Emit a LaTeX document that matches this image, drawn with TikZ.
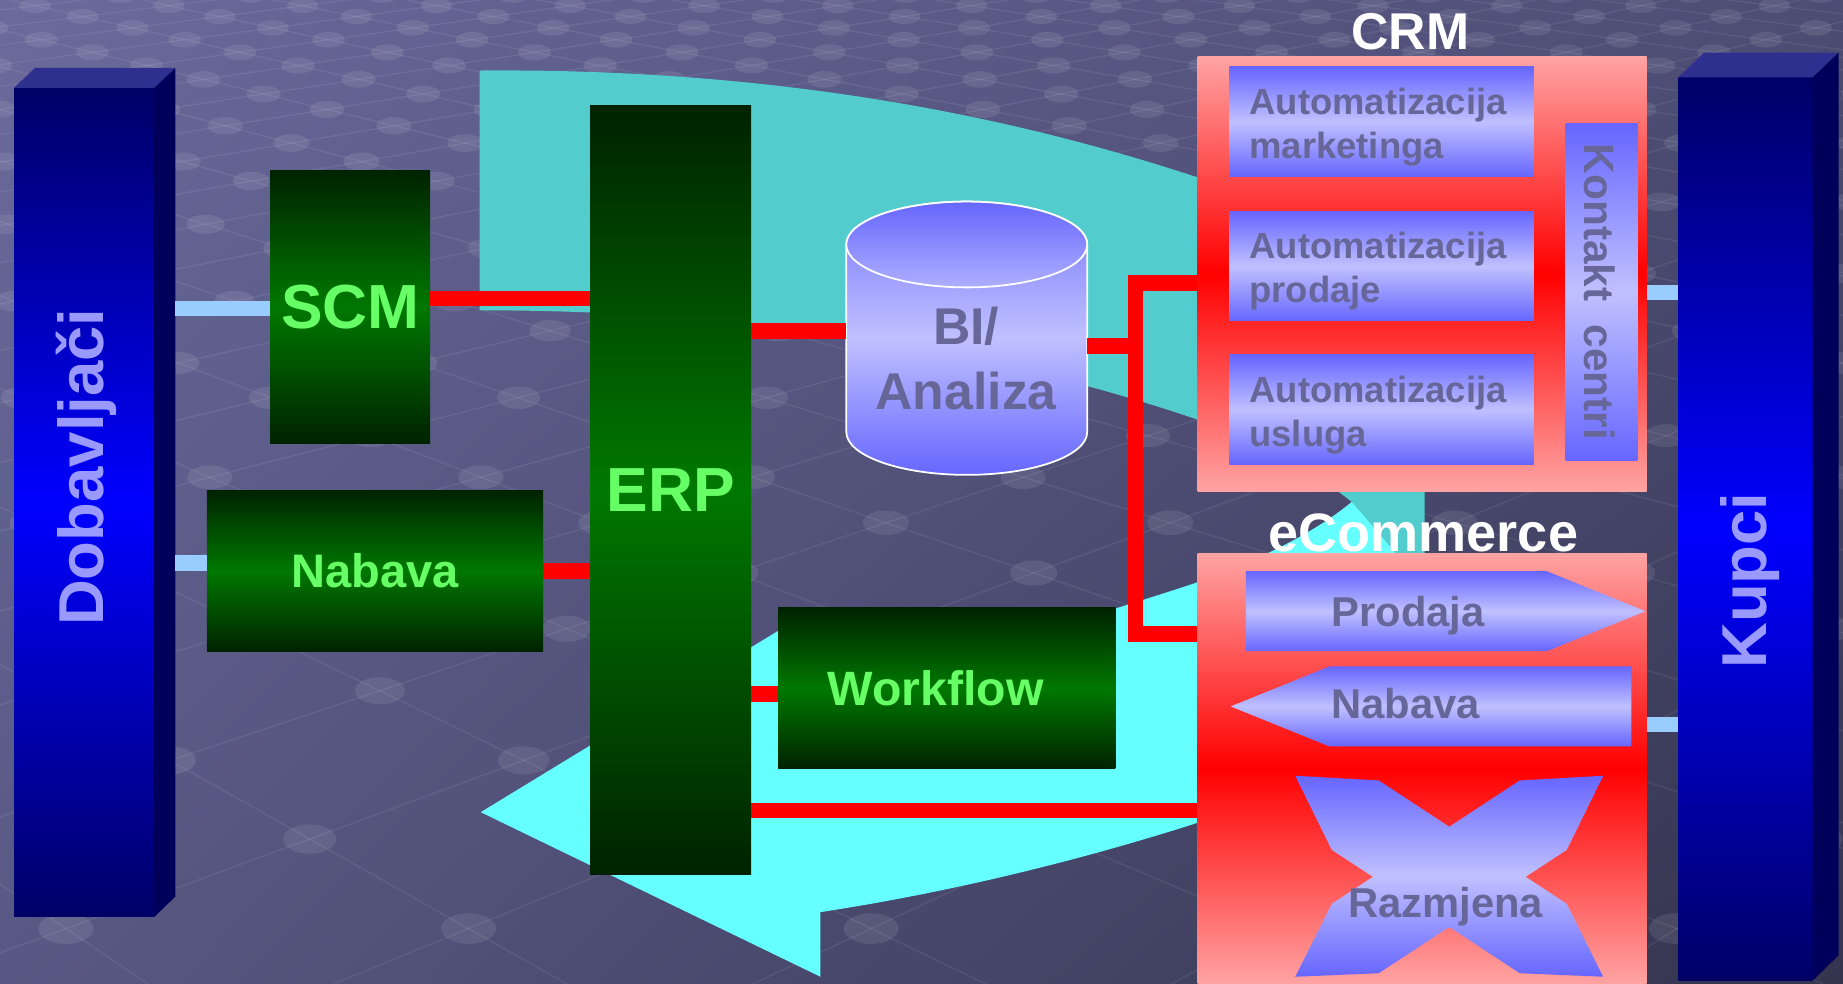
\documentclass[tikz,border=0pt]{standalone}
\usepackage{fontspec}
\setmainfont{Liberation Sans}
\usetikzlibrary{calc,shadings}
\definecolor{bgUL}{HTML}{6A6A9C}
\definecolor{bgUR}{HTML}{4C4C74}
\definecolor{bgLL}{HTML}{585884}
\definecolor{bgLR}{HTML}{34344E}
\definecolor{tealc}{HTML}{52CCCC}
\definecolor{cyanc}{HTML}{66FFFF}
\definecolor{lblue}{HTML}{99CCFF}
\definecolor{gdark}{HTML}{002200}
\definecolor{gmid}{HTML}{007800}
\definecolor{gtxt}{HTML}{66FF66}
\definecolor{pinkc}{HTML}{FFA3A3}
\definecolor{lavA}{HTML}{6666FF}
\definecolor{lavB}{HTML}{C0C0FF}
\definecolor{lavC}{HTML}{7777FF}
\definecolor{ptxt}{HTML}{666699}
\definecolor{navyA}{HTML}{000066}
\definecolor{navyB}{HTML}{0000FF}
\definecolor{navyS}{HTML}{00005A}
\definecolor{navyT}{HTML}{2F2F8F}
\definecolor{btxt}{HTML}{9999FF}
\newcommand\setfs[2]{\fontsize{#1}{#2}\selectfont}
\begin{document}
\begin{tikzpicture}[x=1pt,y=-1pt,
  gbox/.style={rectangle, inner sep=0pt, top color=gdark, bottom color=gdark, middle color=gmid, text=gtxt},
  lav/.style={top color=lavA, bottom color=lavA, middle color=lavB},
  pbox/.style={rectangle, inner sep=0pt, top color=pinkc, bottom color=pinkc, middle color=red},
  front3d/.style={rectangle, inner sep=0pt, top color=navyA, bottom color=navyA, middle color=navyB},
  crmitem/.style={lav, rectangle, minimum width=259pt, minimum height=93pt, inner xsep=17pt, inner ysep=0pt, text width=225pt, align=left, text=ptxt, font=\setfs{31}{37.5}\bfseries},
  ptext/.style={text=ptxt, inner sep=0pt, font=\setfs{35.5}{40}\bfseries, anchor=base},
  redc/.style={draw=red, line width=13.5pt},
  lbc/.style={draw=lblue, line width=13pt},
  latline/.style={draw=white, opacity=0.08, line width=1.1pt},
  latdot/.style={fill=white, opacity=0.09}]
\useasboundingbox (0,0) rectangle (1568,837);
% background
\shade[upper left=bgUL, upper right=bgUR, lower left=bgLL, lower right=bgLR] (0,0) rectangle (1568,837);
\begin{scope}
\clip (0,0) rectangle (1568,837);
\pgfmathsetmacro\za{1.051+0.0728*(-3)}
\pgfmathsetmacro\zb{1.051+0.0728*34}
\foreach \c in {-24,...,24}{
  \draw[latline] ({784+((2*\c-3-0.25)/\za)*180},{-386+1236/\za}) -- ({784+((2*\c+34-0.25)/\zb)*180},{-386+1236/\zb});
  \draw[latline] ({784+((2*\c+3-0.25)/\za)*180},{-386+1236/\za}) -- ({784+((2*\c-34-0.25)/\zb)*180},{-386+1236/\zb});
}
\foreach \k in {0,...,32}{
  \pgfmathsetmacro\zz{1.051+0.0728*\k}
  \pgfmathsetmacro\yy{-386+1236/\zz}
  \pgfmathsetmacro\rx{24/sqrt(\zz)}
  \pgfmathsetmacro\ry{13.5/(\zz^0.65)}
  \pgfmathsetmacro\pty{mod(\k,2)}
  \foreach \mm in {-16,-14,...,16}{
    \pgfmathsetmacro\xx{784+((\mm+\pty-0.25)/\zz)*180}
    \fill[latdot] (\xx,\yy) ellipse[x radius=\rx pt, y radius=\ry pt];
  }
}
\end{scope}
% cyclic arrow
\fill[tealc] (408,60) .. controls (650,58) and (850,95) .. (1019,151)
  .. controls (1120,185) and (1212,290) .. (1212,400) -- (1212,510) -- (1150,427)
  .. controls (1110,395) and (1070,375) .. (1019,357)
  .. controls (850,300) and (650,264) .. (408,264) -- cycle;
\fill[cyanc] (409,691) -- (696,516) -- (697,590) .. controls (800,562) and (930,525) .. (1017,496)
  .. controls (1075,475) and (1120,452) .. (1150,427) -- (1290,590)
  .. controls (1200,650) and (1110,685) .. (1019,700)
  .. controls (900,738) and (790,762) .. (698,776) -- (698,831) -- cycle;
% green boxes
\node[gbox, minimum width=136pt, minimum height=232pt, font=\setfs{53}{60}\bfseries] (scm) at (298,261) {SCM};
\node[gbox, minimum width=286pt, minimum height=137pt, font=\setfs{40}{48}\bfseries] (nab) at (319,485.5) {Nabava};
\node[gbox, minimum width=137pt, minimum height=654pt, font=\setfs{53}{60}\bfseries] (erp) at (570.5,417) {ERP};
\node[gbox, minimum width=287pt, minimum height=137pt] (wf) at (805.5,585.5) {};
\node[text=gtxt, inner sep=0pt, font=\setfs{41}{48}\bfseries] (wfT) at (796,585.5) {Workflow};
% BI cylinder
\node[inner sep=0pt, minimum width=205pt, minimum height=232pt] (bi) at (822.5,288) {};
\shadedraw[top color=lavC, bottom color=lavA, middle color=lavB, draw=white, line width=1.5pt]
  (720,208) -- (720,367.5) arc[start angle=180, end angle=360, x radius=102.5pt, y radius=36.5pt]
  -- (925,208) arc[start angle=0, end angle=180, x radius=102.5pt, y radius=36.5pt] -- cycle;
\shadedraw[top color=lavA, bottom color=lavB!80!lavA, draw=white, line width=1.5pt]
  (822.5,208) ellipse[x radius=102.5pt, y radius=36.5pt];
\node[text=ptxt, inner sep=0pt, font=\setfs{44}{54.5}\bfseries, align=center] (biT) at (822,305) {BI/\\Analiza};
% CRM
\node[pbox, minimum width=382pt, minimum height=370pt] (crm) at (1210,233) {};
\node[text=white, inner sep=0pt, font=\setfs{44}{50}\bfseries] (crmT) at (1200,27) {CRM};
\node[crmitem] (am) at (1175.5,103.5) {\rule{0pt}{31.5pt}Automatizacija\\marketinga};
\node[crmitem] (ap) at (1175.5,226.5) {\rule{0pt}{31.5pt}Automatizacija\\prodaje};
\node[crmitem] (au) at (1175.5,348.5) {\rule{0pt}{31.5pt}Automatizacija\\usluga};
\node[lav, rectangle, inner sep=0pt, minimum width=61pt, minimum height=287pt] (kc) at (1362.5,248.5) {};
\node[rotate=-90, anchor=base, text=ptxt, inner sep=0pt, font=\setfs{36}{40}\bfseries] (kcT) at (1348,248.5) {Kontakt\ \ centri};
% eCommerce
\node[pbox, minimum width=382pt, minimum height=366pt] (ec) at (1210,654) {};
\node[text=white, inner sep=0pt, font=\setfs{46}{50}\bfseries, anchor=base] (ecT) at (1211,469) {eCommerce};
\shade[lav] (1060,486) -- (1316,486) -- (1400,520) -- (1316,554) -- (1060,554) -- cycle;
\node[ptext] (prT) at (1198,533) {Prodaja};
\shade[lav] (1047,601) -- (1131,567) -- (1388,567) -- (1388,635) -- (1131,635) -- cycle;
\node[ptext] (nabT) at (1196,611) {Nabava};
\shade[lav] (1102,660) -- (1173,664) -- (1333,769) -- (1364,831) -- (1293,828) -- (1133,723) -- cycle;
\shade[lav] (1364,660) -- (1293,664) -- (1133,769) -- (1102,831) -- (1173,828) -- (1333,723) -- cycle;
\node[ptext] (rzT) at (1230,781) {Razmjena};
% Dobavljaci
\node[front3d, minimum width=119pt, minimum height=705pt] (dob) at (71.5,427.5) {};
\fill[navyT] (dob.north west) -- ++(18,-17) -- ++(119,0) -- (dob.north east) -- cycle;
\fill[navyS] (dob.north east) -- ++(18,-17) -- ++(0,705) -- (dob.south east) -- cycle;
\node[rotate=90, anchor=base, text=btxt, inner sep=0pt, font=\setfs{54}{60}\bfseries] (dobT) at (88,397.5) {Dobavljači};
% Kupci
\node[front3d, minimum width=114pt, minimum height=768pt] (kup) at (1485,450) {};
\fill[navyT] (kup.north west) -- ++(22,-21) -- ++(114,0) -- (kup.north east) -- cycle;
\fill[navyS] (kup.north east) -- ++(22,-21) -- ++(0,768) -- (kup.south east) -- cycle;
\node[rotate=90, anchor=base, text=btxt, inner sep=0pt, font=\setfs{54}{60}\bfseries] (kupT) at (1502.5,494) {Kupci};
% connectors
\coordinate (dobS) at (149,262.5);
\coordinate (dobN) at (149,479);
\draw[lbc] (dobS) -- (scm.west |- dobS);
\draw[lbc] (dobN) -- (nab.west |- dobN);
\coordinate (yK1) at (0,249);
\coordinate (yK2) at (0,616.5);
\draw[lbc] (crm.east |- yK1) -- (kup.west |- yK1);
\draw[lbc] (ec.east |- yK2) -- (kup.west |- yK2);
\coordinate (y1) at (0,254);
\draw[redc] (scm.east |- y1) -- (erp.west |- y1);
\draw[redc] (nab.east) -- (nab.east -| erp.west);
\coordinate (y2) at (0,281.5);
\draw[redc] (erp.east |- y2) -- (bi.west |- y2);
\coordinate (jt) at (966,240.5);
\coordinate (jm) at (966,294.5);
\coordinate (jb) at (966,539.5);
\draw[redc] (bi.east |- jm) -- (jm);
\draw[redc] (crm.west |- jt) -- (jt) -- (jb) -- (ec.west |- jb);
\coordinate (y3) at (0,590.5);
\draw[redc] (erp.east |- y3) -- (wf.west |- y3);
\coordinate (y4) at (0,689.5);
\draw[redc] (erp.east |- y4) -- (ec.west |- y4);
\end{tikzpicture}
\end{document}
